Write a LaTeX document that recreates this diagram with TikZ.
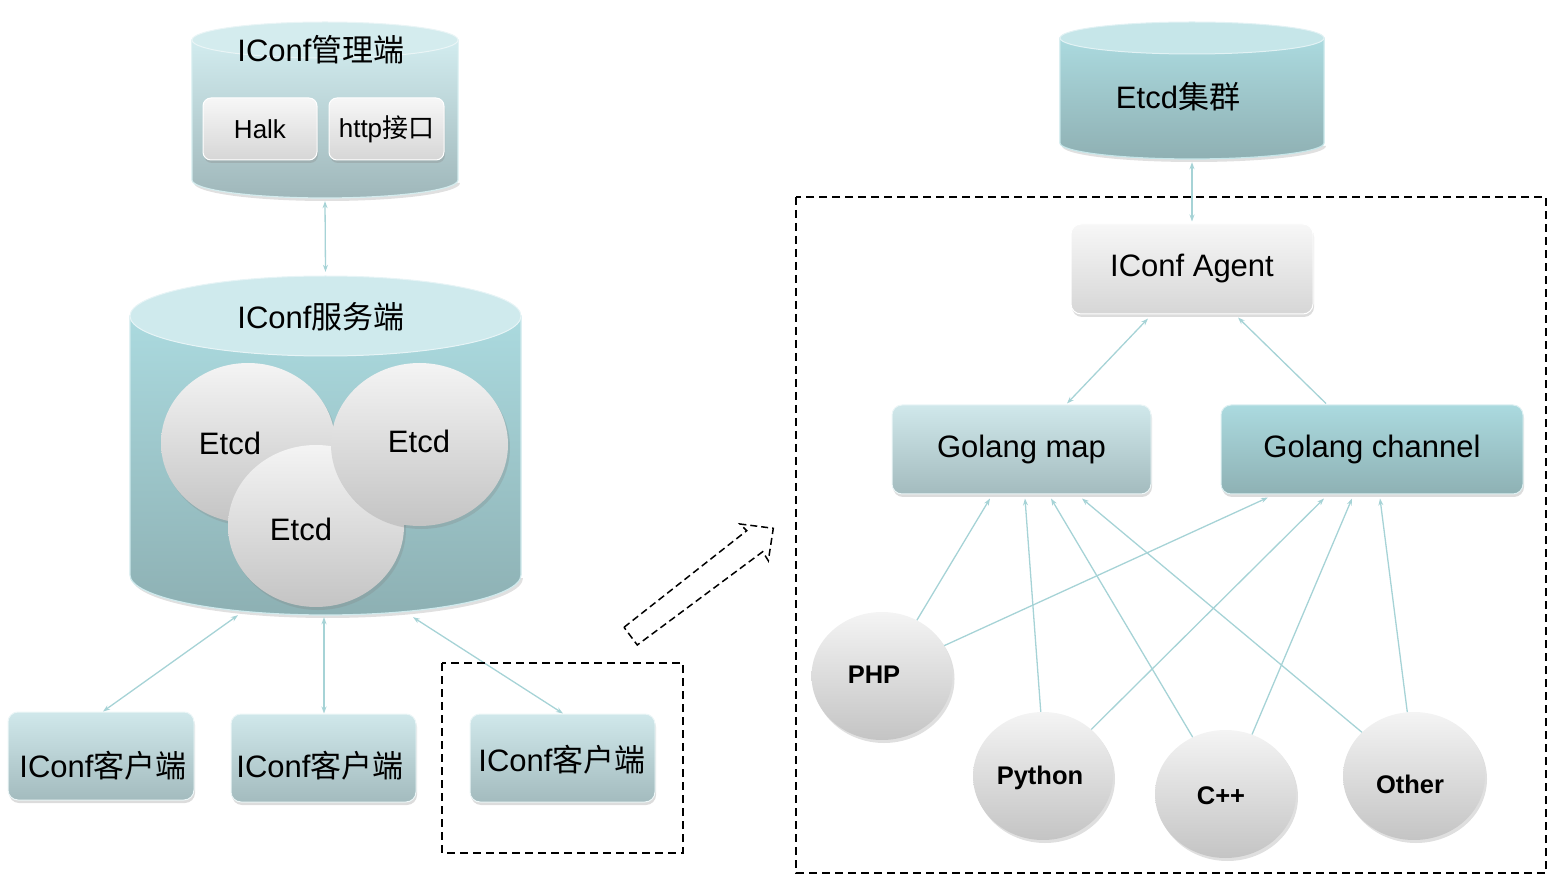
\documentclass[tikz,border=0pt]{standalone}
\usepackage{fontspec}
\setmainfont{Liberation Sans}
\newfontfamily\cjk{Noto Sans CJK SC}
\usetikzlibrary{arrows.meta,shadows,shapes.geometric}
\definecolor{arrowc}{HTML}{A6D3D6}
\definecolor{wtop}{HTML}{F7F7F7}
\definecolor{wbot}{HTML}{D6D6D6}
\definecolor{ltop}{HTML}{D0E8EB}
\definecolor{lbot}{HTML}{A3BBBE}
\definecolor{dtop}{HTML}{ABDADF}
\definecolor{dbot}{HTML}{8EB1B4}
\definecolor{captop}{HTML}{D2ECEF}
\definecolor{balltop}{HTML}{F4F4F4}
\definecolor{ballbot}{HTML}{C4C4C4}
\definecolor{mgbot}{HTML}{9FB7BA}
\definecolor{mgcap}{HTML}{D4ECEE}
\definecolor{svbot}{HTML}{8DB0B3}
\definecolor{svcap}{HTML}{CFEAED}
\definecolor{etbot}{HTML}{8FB0B3}
\definecolor{etcap}{HTML}{C6E6E9}
\newcommand\mycyl[8]{%
  \fill[black,opacity=0.12] ({#1-#4+2},{#3+3}) arc[start angle=180,end angle=360,x radius=#4pt,y radius=#5pt] -- cycle;
  \path[top color=#6,bottom color=#7,draw=#8,line width=1.2pt] ({#1-#4},#2) -- ({#1-#4},#3) arc[start angle=180,end angle=360,x radius=#4pt,y radius=#5pt] -- ({#1+#4},#2) -- cycle;
  \path[fill=#8,draw=white!50!#8,line width=1pt] (#1,#2) ellipse[x radius=#4pt,y radius=#5pt];
}
\begin{document}
\begin{tikzpicture}[x=1pt,y=-1pt,
  txt/.style={inner sep=0pt,font=\fontsize{31}{36}\selectfont},
  shadowed/.style={drop shadow={shadow xshift=1pt,shadow yshift=-3pt,opacity=0.28}},
  whitebox/.style={rounded corners=8pt,top color=wtop,bottom color=wbot,draw=white,line width=1pt,shadowed,inner sep=0pt},
  lightbox/.style={rounded corners=10pt,top color=ltop,bottom color=lbot,draw=white!60!ltop,line width=1pt,shadowed,inner sep=0pt,font=\fontsize{31}{36}\selectfont},
  darkbox/.style={rounded corners=10pt,top color=dtop,bottom color=dbot,draw=white!60!dtop,line width=1pt,shadowed,inner sep=0pt,font=\fontsize{31}{36}\selectfont},
  ball/.style={ellipse,inner sep=0pt,top color=balltop,bottom color=ballbot,drop shadow={shadow xshift=2pt,shadow yshift=-3pt,opacity=0.25}},
  lang/.style={inner sep=0pt,font=\fontsize{25.5}{30}\selectfont\bfseries},
  conn/.style={draw=arrowc,line width=1.3pt},
  both/.style={conn,{Stealth[length=7pt,width=5pt]}-{Stealth[length=7pt,width=5pt]}},
  totip/.style={conn,-{Stealth[length=7pt,width=5pt]}},
  dashbox/.style={draw=black,line width=1.8pt,dash pattern=on 8pt off 5pt},
  region/.style={inner sep=0pt,draw=none}
]
\useasboundingbox (0,0) rectangle (1551,882);

% ---------- left side ----------
% management cylinder
\mycyl{325}{40}{180}{133}{18}{captop}{mgbot}{mgcap}
\node[region,minimum width=266pt,minimum height=178pt] (mgmt) at (325,110) {};
\node[txt] (mgmtt) at (321,50) {IConf{\cjk 管理端}};
\node[whitebox,minimum width=114pt,minimum height=62pt,font=\fontsize{26}{30}\selectfont] (halk) at (260,129) {Halk};
\node[whitebox,minimum width=115pt,minimum height=62pt,font=\fontsize{26}{30}\selectfont] (http) at (386.5,129) {http{\cjk 接口}};

% service cylinder
\mycyl{325.5}{316}{575}{195.5}{40}{dtop}{svbot}{svcap}
\node[region,minimum width=391pt,minimum height=340pt] (svc) at (325.5,445) {};
\node[txt] (svct) at (321,317) {IConf{\cjk 服务端}};

\node[ball,minimum width=174pt,minimum height=160pt] (e1) at (248,443) {};
\node[ball,minimum width=176pt,minimum height=162pt] (e3) at (316,526) {};
\node[ball,minimum width=177pt,minimum height=163pt] (e2) at (419.5,444.5) {};
\node[txt] (e1t) at (230,443) {Etcd};
\node[txt] (e2t) at (419,441) {Etcd};
\node[txt] (e3t) at (301,529) {Etcd};

\draw[both] ([yshift=-2pt]mgmt.south) -- ([yshift=3pt]svc.north);

% clients
\node[lightbox,minimum width=186pt,minimum height=88pt] (c1) at (101,756) {};
\node[txt] (c1t) at (103,766) {IConf{\cjk 客户端}};
\node[lightbox,minimum width=185pt,minimum height=88pt] (c2) at (323.5,758) {};
\node[txt] (c2t) at (320,766) {IConf{\cjk 客户端}};
\node[lightbox,minimum width=185pt,minimum height=88pt] (c3) at (562.5,758) {};
\node[txt] (c3t) at (562,760) {IConf{\cjk 客户端}};

\draw[both] ([xshift=-87.5pt]svc.south) -- ([xshift=2pt]c1.north);
\draw[both] ([xshift=-1.5pt,yshift=-2pt]svc.south) -- ([xshift=0.5pt]c2.north);
\draw[both] ([xshift=87.5pt,yshift=-2pt]svc.south) -- ([xshift=0.5pt]c3.north);

\draw[dashbox] (442,663) rectangle (683,853);

% block arrow
\draw[dashbox,line width=1.5pt,dash pattern=on 7pt off 4pt,line join=miter] (624,627.3) -- (746.7,530.7) -- (740,524) -- (773.3,528.3) -- (768.3,560.7) -- (762.7,551.7) -- (637.3,645) -- cycle;

% ---------- right side ----------
\draw[dashbox] (796,197) rectangle (1546,873);

\mycyl{1192}{38}{143}{132}{16}{dtop}{etbot}{etcap}
\node[region,minimum width=264pt,minimum height=138pt] (etcdc) at (1192,91) {};
\node[txt] (etcdct) at (1178,97) {Etcd{\cjk 集群}};

\node[whitebox,rounded corners=10pt,minimum width=242pt,minimum height=90pt,font=\fontsize{31}{36}\selectfont] (agent) at (1192,269) {IConf Agent};
\draw[both] ([yshift=-2pt]etcdc.south) -- ([yshift=2pt]agent.north);

\node[lightbox,minimum width=259pt,minimum height=89pt] (gmap) at (1021.5,449.5) {Golang map};
\node[darkbox,minimum width=302pt,minimum height=89pt] (gchan) at (1372,449.5) {Golang channel};

\draw[both] ([xshift=-44pt,yshift=-4pt]agent.south) -- ([xshift=45.5pt,yshift=1pt]gmap.north);
\draw[totip] ([xshift=-46pt,yshift=1pt]gchan.north) -- ([xshift=46pt,yshift=-3pt]agent.south);

\node[ball,minimum width=141pt,minimum height=128pt] (php) at (882,676) {};
\node[ball,minimum width=140pt,minimum height=128pt] (py) at (1043,776) {};
\node[ball,minimum width=141pt,minimum height=128pt] (cpp) at (1225.5,794) {};
\node[ball,minimum width=142pt,minimum height=128pt] (oth) at (1414,776) {};
\node[lang] (phpt) at (874,675) {PHP};
\node[lang] (pyt) at (1040,778) {Python};
\node[lang] (cppt) at (1221,796) {C++};
\node[lang] (otht) at (1410,784) {Other};

\draw[totip] (php.58) -- ([xshift=-31.5pt,yshift=-4pt]gmap.south);
\draw[totip] (py.92) -- ([xshift=3.5pt,yshift=-4pt]gmap.south);
\draw[totip] (cpp.120) -- ([xshift=29.5pt,yshift=-4pt]gmap.south);
\draw[totip] (oth.140) -- ([xshift=60.5pt,yshift=-4pt]gmap.south);
\draw[totip] (php.26) -- ([xshift=-104pt,yshift=-3pt]gchan.south);
\draw[totip] (py.44) -- ([xshift=-48pt,yshift=-4pt]gchan.south);
\draw[totip] (cpp.66) -- ([xshift=-20pt,yshift=-4pt]gchan.south);
\draw[totip] (oth.96) -- ([xshift=8pt,yshift=-4pt]gchan.south);
\end{tikzpicture}
\end{document}
